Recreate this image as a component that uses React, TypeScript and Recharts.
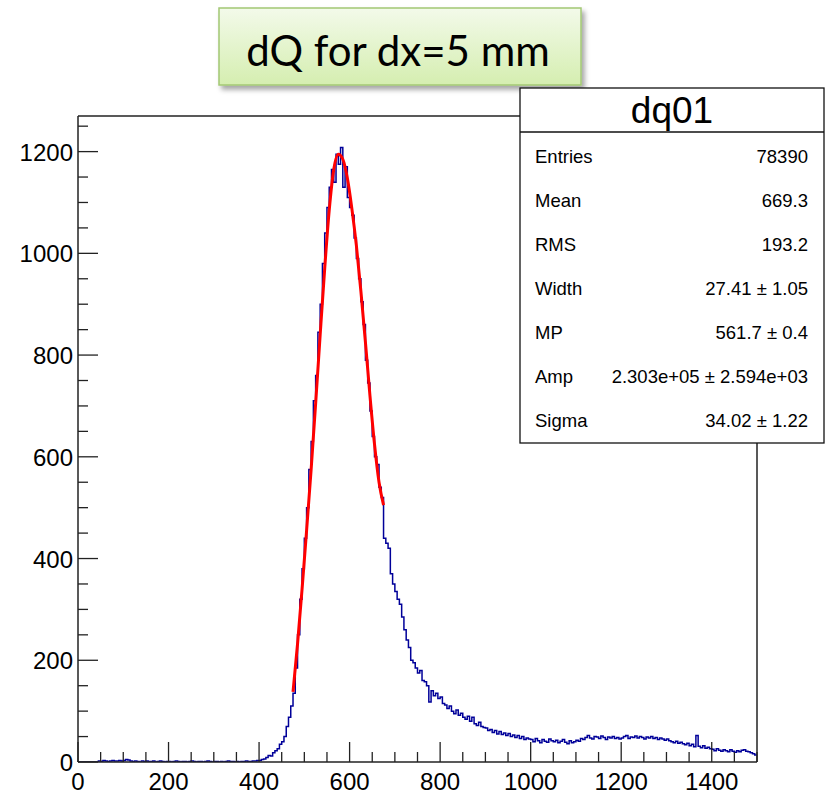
import { ComposedChart, Line, XAxis, YAxis, ReferenceLine } from "recharts";

// histogram dq01: 300 bins of width 5 from 0 to 1500
const BIN_WIDTH = 5;
const counts = [
  0, 0, 0, 0, 0, 0, 0, 0, 0, 2, 1, 3, 2, 1, 2, 3, 2, 2, 3, 2,
  3, 5, 4, 2, 1, 2, 1, 0, 2, 1, 2, 1, 1, 2, 0, 1, 2, 1, 0, 1,
  1, 0, 1, 2, 1, 0, 1, 1, 0, 1, 2, 1, 0, 1, 1, 0, 1, 2, 1, 0,
  1, 1, 0, 1, 0, 1, 2, 1, 1, 0, 1, 0, 1, 1, 2, 1, 1, 2, 2, 3,
  3, 5, 6, 9, 13, 12, 18, 22, 26, 35, 40, 50, 70, 88, 110, 135, 185, 250, 320, 380,
  440, 500, 575, 630, 710, 760, 845, 900, 980, 1040, 1090, 1130, 1165, 1140, 1195, 1175, 1208, 1130, 1170, 1110,
  1090, 1075, 1030, 990, 950, 905, 860, 790, 745, 690, 640, 600, 585, 540, 520, 440, 430, 420, 370, 350,
  335, 320, 310, 285, 260, 240, 225, 200, 195, 185, 175, 180, 160, 158, 150, 118, 140, 130, 135, 125,
  128, 115, 112, 105, 110, 100, 95, 102, 92, 96, 88, 84, 90, 80, 88, 75, 72, 78, 70, 68,
  67, 62, 64, 58, 62, 55, 60, 54, 57, 52, 56, 50, 53, 48, 52, 46, 50, 44, 47, 45,
  44, 40, 46, 42, 38, 44, 41, 39, 45, 42, 40, 43, 38, 41, 44, 39, 36, 42, 38, 40,
  43, 41, 46, 44, 48, 52, 47, 45, 50, 49, 46, 51, 48, 44, 49, 47, 50, 46, 48, 45,
  47, 50, 52, 46, 49, 48, 51, 47, 50, 48, 45, 49, 47, 50, 46, 48, 44, 47, 45, 43,
  45, 42, 40, 38, 41, 37, 39, 36, 34, 37, 32, 35, 30, 52, 31, 28, 32, 27, 29, 26,
  25, 22, 26, 23, 21, 24, 22, 20, 24, 21, 19, 22, 20, 23, 24, 21, 20, 18, 16, 14,
];

// langaus fit curve (red)
const fitX = [475, 485, 495, 505, 515, 525, 535, 545, 555, 565, 575, 585, 595, 605, 615, 625, 635, 645, 655, 665, 675];
const fitY = [138, 232, 340, 455, 575, 705, 840, 970, 1085, 1165, 1195, 1185, 1148, 1088, 1015, 925, 825, 720, 625, 550, 505];

const xMajor = [0, 200, 400, 600, 800, 1000, 1200, 1400];
const yMajor = [0, 200, 400, 600, 800, 1000, 1200];

const statNames = ["Entries", "Mean", "RMS", "Width", "MP", "Amp", "Sigma"];
const statValues = ["78390", "669.3", "193.2", "27.41 \u00b1 1.05", "561.7 \u00b1 0.4", "2.303e+05 \u00b1 2.594e+03", "34.02 \u00b1 1.22"];

const X_MAX = 1500;
const Y_MAX = 1270;
const FONT = "'Liberation Sans', Arial, Helvetica, sans-serif";
const AXIS = "#222";

// stepAfter from the low edges, plus the closing edge at 1500
const histData = counts
  .map((c, i) => ({ x: i * BIN_WIDTH, y: c }))
  .concat([{ x: counts.length * BIN_WIDTH, y: counts[counts.length - 1] }]);
const fitData = fitX.map((x, i) => ({ x, y: fitY[i] }));

const xTicks = Array.from({ length: 31 }, (_, i) => i * 50);
const yTicks = Array.from({ length: 26 }, (_, i) => i * 50);

function XTick(props: any) {
  const { x, y, payload } = props;
  const v = payload.value;
  const major = xMajor.includes(v);
  return (
    <g>
      <line x1={x} x2={x} y1={y} y2={y - (major ? 20 : 10)} stroke={AXIS} strokeWidth={1.3} />
      {major && (
        <text x={x} y={y + 28} textAnchor="middle" fontSize={24} fontFamily={FONT} fill="#000">
          {v}
        </text>
      )}
    </g>
  );
}

function YTick(props: any) {
  const { x, y, payload } = props;
  const v = payload.value;
  const major = yMajor.includes(v);
  return (
    <g>
      <line x1={x} x2={x + (major ? 20 : 10)} y1={y} y2={y} stroke={AXIS} strokeWidth={1.3} />
      {major && (
        <text x={x - 5} y={y + 9} textAnchor="end" fontSize={24} fontFamily={FONT} fill="#000">
          {v}
        </text>
      )}
    </g>
  );
}

function Overlay() {
  return (
    <svg width={830} height={791} style={{ position: "absolute", left: 0, top: 0, pointerEvents: "none" }}>
      <defs>
        <linearGradient id="titleFill" x1="0" y1="0" x2="0" y2="1">
          <stop offset="0%" stopColor="#f3faea" />
          <stop offset="100%" stopColor="#d5eeb0" />
        </linearGradient>
        <filter id="shadow" x="-10%" y="-10%" width="130%" height="140%">
          <feDropShadow dx={3} dy={4} stdDeviation={2.5} floodColor="#000" floodOpacity={0.35} />
        </filter>
      </defs>
      {/* title box */}
      <rect x={219} y={8} width={362} height={77} fill="url(#titleFill)" stroke="#a3c874" strokeWidth={1.5} filter="url(#shadow)" />
      <text x={398} y={66} textAnchor="middle" fontSize={42} fontFamily="Lato, 'Open Sans', sans-serif" fill="#000">
        dQ for dx=5 mm
      </text>
      {/* stats box */}
      <rect x={520} y={88} width={304} height={355} fill="#fff" stroke="#111" strokeWidth={1.3} />
      <line x1={520} x2={824} y1={132} y2={132} stroke="#111" strokeWidth={1.3} />
      <text x={672} y={123} textAnchor="middle" fontSize={37} fontFamily={FONT} fill="#000">
        dq01
      </text>
      {statNames.map((n, i) => (
        <g key={n}>
          <text x={535} y={163 + i * 44} fontSize={18.5} fontFamily={FONT} fill="#000">
            {n}
          </text>
          <text x={808} y={163 + i * 44} textAnchor="end" fontSize={18.5} fontFamily={FONT} fill="#000">
            {statValues[i]}
          </text>
        </g>
      ))}
    </svg>
  );
}

export default function App() {
  return (
    <div style={{ position: "absolute", left: 0, top: 0, width: 830, height: 791, background: "#fff" }}>
      <ComposedChart width={830} height={791} margin={{ top: 116, right: 73, bottom: 0, left: 0 }}>
        <XAxis
          dataKey="x"
          type="number"
          domain={[0, X_MAX]}
          ticks={xTicks}
          interval={0}
          allowDataOverflow
          height={29}
          tickSize={0}
          tickMargin={0}
          tickLine={false}
          axisLine={{ stroke: AXIS, strokeWidth: 1.5 }}
          tick={<XTick />}
        />
        <YAxis
          type="number"
          domain={[0, Y_MAX]}
          ticks={yTicks}
          interval={0}
          allowDataOverflow
          width={78}
          tickSize={0}
          tickMargin={0}
          tickLine={false}
          axisLine={{ stroke: AXIS, strokeWidth: 1.5 }}
          tick={<YTick />}
        />
        <ReferenceLine y={Y_MAX} stroke={AXIS} strokeWidth={1.5} />
        <ReferenceLine x={X_MAX} stroke={AXIS} strokeWidth={1.5} />
        <Line
          data={histData}
          dataKey="y"
          type="stepAfter"
          stroke="#000099"
          strokeWidth={1.5}
          dot={false}
          isAnimationActive={false}
        />
        <Line
          data={fitData}
          dataKey="y"
          type="monotone"
          stroke="#ff0000"
          strokeWidth={3}
          dot={false}
          isAnimationActive={false}
        />
      </ComposedChart>
      <Overlay />
    </div>
  );
}
